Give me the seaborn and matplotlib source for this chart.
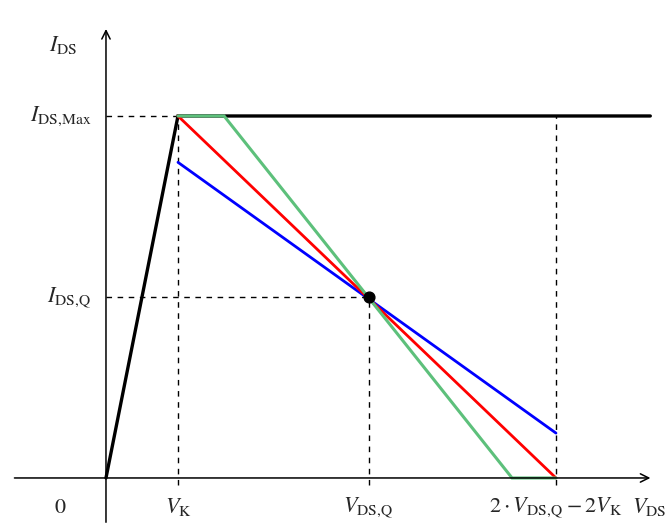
import numpy as np
import pandas as pd
import seaborn as sns
import matplotlib.pyplot as plt

# operating points (V_K = 1 unit, I_DS,Max = 5 units)
v_k = 1.0
v_q = 3.65
v_end = 6.25
i_max = 5.0
i_q = 2.5
v_right = 7.56

# load lines: x / y lists
black_x = [0, v_k, v_right]
black_y = [0, i_max, i_max]
red_x = [v_k, v_end]
red_y = [i_max, 0]
blue_x = [v_k, v_end]
blue_y = [4.36, 0.62]
green_x = [v_k, 1.64, 5.64, v_end]
green_y = [i_max, i_max, 0, 0]

sns.set_style("white")
plt.rcParams['mathtext.fontset'] = 'stix'
plt.rcParams['font.family'] = ['DejaVu Serif']

fig = plt.figure(figsize=(6.67, 5.23), dpi=100)
ax = fig.add_axes([0, 0, 1, 1])
ax.set_xlim(-1.472, 7.792)
ax.set_ylim(-0.622, 6.602)
ax.axis('off')

# dashed guides
dash = dict(color='black', lw=1.0, ls=(0, (4, 4)))
ax.plot([0, v_k], [i_max, i_max], **dash)
ax.plot([0, v_q], [i_q, i_q], **dash)
ax.plot([v_k, v_k], [-0.1, i_max], **dash)
ax.plot([v_q, v_q], [-0.1, i_q], **dash)
ax.plot([v_end, v_end], [-0.1, i_max], **dash)

# axes with arrows
ax.annotate('', xy=(7.6, 0), xytext=(-1.31, 0),
            arrowprops=dict(arrowstyle='->', lw=1.1, color='black', mutation_scale=15))
ax.annotate('', xy=(0, 6.24), xytext=(0, -0.65),
            arrowprops=dict(arrowstyle='->', lw=1.1, color='black', mutation_scale=15))

def draw(xs, ys, color, lw):
    df = pd.DataFrame({'x': xs, 'y': ys})
    sns.lineplot(data=df, x='x', y='y', sort=False, color=color, lw=lw, ax=ax,
                 solid_joinstyle='miter')

draw(black_x, black_y, 'black', 2.4)
draw(blue_x, blue_y, '#0000ff', 2.0)
draw(red_x, red_y, '#ff0000', 2.0)
draw(green_x, green_y, '#5dc07b', 2.2)

ax.scatter([v_q], [i_q], s=60, color='black', zorder=5)

fs = 16
ax.text(-0.6, 5.98, r'$I_{\mathrm{DS}}$', fontsize=fs, ha='center', va='center')
ax.text(-0.2, i_max, r'$I_{\mathrm{DS,\!Max}}$', fontsize=fs, ha='right', va='center')
ax.text(-0.2, i_q, r'$I_{\mathrm{DS,\!Q}}$', fontsize=fs, ha='right', va='center')
yl = -0.4
ax.text(-0.64, yl, r'$0$', fontsize=fs, ha='center', va='center')
ax.text(v_k, yl, r'$V_{\mathrm{K}}$', fontsize=fs, ha='center', va='center')
ax.text(v_q, yl, r'$V_{\mathrm{DS,\!Q}}$', fontsize=fs, ha='center', va='center')
ax.text(v_end, yl, r'$2\cdot V_{\mathrm{DS,\!Q}}-2V_{\mathrm{K}}$', fontsize=fs, ha='center', va='center')
ax.text(7.78, yl, r'$V_{\mathrm{DS}}$', fontsize=fs, ha='right', va='center')

fig.savefig('out.png', dpi=100)
